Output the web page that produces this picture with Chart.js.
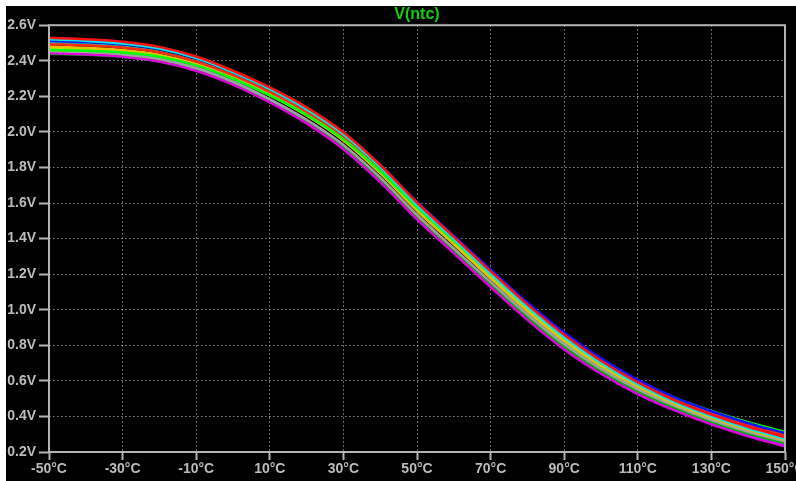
<!DOCTYPE html>
<html>
<head>
<meta charset="utf-8">
<script src="https://cdn.jsdelivr.net/npm/chart.js@4/dist/chart.umd.min.js"></script>
<style>
  html, body { margin: 0; padding: 0; background: #ffffff; }
  #wrap { position: relative; width: 796px; height: 481px; }
</style>
</head>
<body>
<div id="wrap"><canvas id="c" width="796" height="481"></canvas></div>
<script>
// ---- data ----
const temperatures = [-50, -40, -30, -20, -10, 0, 10, 20, 30, 40, 50, 60, 70, 80, 90, 100, 110, 120, 130, 140, 150];
const xTickValues = [-50, -30, -10, 10, 30, 50, 70, 90, 110, 130, 150];
const yTickValues = [0.2, 0.4, 0.6, 0.8, 1.0, 1.2, 1.4, 1.6, 1.8, 2.0, 2.2, 2.4, 2.6];
const titleText = 'V(ntc)';

const runRed     = [2.530, 2.521, 2.507, 2.478, 2.424, 2.344, 2.250, 2.138, 1.998, 1.814, 1.603, 1.410, 1.217, 1.030, 0.859, 0.713, 0.591, 0.491, 0.411, 0.342, 0.284];
const runCyan    = [2.521, 2.512, 2.497, 2.469, 2.415, 2.335, 2.240, 2.126, 1.987, 1.802, 1.589, 1.397, 1.204, 1.018, 0.846, 0.701, 0.580, 0.481, 0.401, 0.332, 0.274];
const runBlue    = [2.512, 2.505, 2.493, 2.466, 2.414, 2.336, 2.244, 2.133, 1.996, 1.814, 1.606, 1.416, 1.226, 1.041, 0.872, 0.727, 0.606, 0.507, 0.429, 0.362, 0.306];
const runGreen   = [2.460, 2.456, 2.446, 2.423, 2.374, 2.299, 2.205, 2.096, 1.959, 1.780, 1.576, 1.390, 1.204, 1.023, 0.859, 0.719, 0.602, 0.506, 0.431, 0.367, 0.314];
const runRed2    = [2.493, 2.487, 2.474, 2.448, 2.396, 2.319, 2.225, 2.112, 1.975, 1.793, 1.584, 1.395, 1.205, 1.022, 0.853, 0.710, 0.592, 0.494, 0.416, 0.349, 0.294];
const runYellow  = [2.480, 2.473, 2.460, 2.433, 2.381, 2.303, 2.207, 2.092, 1.952, 1.768, 1.558, 1.368, 1.178, 0.993, 0.826, 0.684, 0.567, 0.471, 0.392, 0.325, 0.269];
const runGray    = [2.455, 2.449, 2.436, 2.410, 2.359, 2.282, 2.183, 2.068, 1.927, 1.744, 1.534, 1.345, 1.157, 0.973, 0.806, 0.667, 0.552, 0.459, 0.380, 0.314, 0.259];
const runMagenta = [2.443, 2.436, 2.423, 2.396, 2.344, 2.266, 2.166, 2.048, 1.903, 1.718, 1.508, 1.318, 1.128, 0.943, 0.777, 0.640, 0.526, 0.434, 0.355, 0.288, 0.232];
const runLime    = [2.470, 2.465, 2.454, 2.429, 2.379, 2.303, 2.209, 2.097, 1.959, 1.779, 1.572, 1.385, 1.197, 1.015, 0.849, 0.708, 0.591, 0.495, 0.418, 0.353, 0.299];
const runDkGreen = [2.440, 2.434, 2.422, 2.396, 2.345, 2.268, 2.169, 2.052, 1.910, 1.726, 1.518, 1.329, 1.140, 0.957, 0.792, 0.654, 0.540, 0.448, 0.370, 0.304, 0.249];
const runTeal    = [2.503, 2.494, 2.479, 2.450, 2.396, 2.317, 2.220, 2.104, 1.962, 1.776, 1.564, 1.371, 1.178, 0.991, 0.820, 0.677, 0.559, 0.462, 0.381, 0.312, 0.254];
const runPurple  = [2.465, 2.457, 2.443, 2.416, 2.363, 2.284, 2.185, 2.068, 1.924, 1.739, 1.527, 1.337, 1.146, 0.960, 0.792, 0.653, 0.537, 0.443, 0.363, 0.296, 0.239];
const runSpring  = [2.475, 2.469, 2.457, 2.431, 2.380, 2.303, 2.208, 2.094, 1.955, 1.774, 1.565, 1.376, 1.188, 1.004, 0.837, 0.696, 0.579, 0.483, 0.405, 0.339, 0.284];
const runOlive   = [2.450, 2.443, 2.430, 2.404, 2.352, 2.274, 2.175, 2.058, 1.915, 1.730, 1.520, 1.332, 1.142, 0.957, 0.790, 0.653, 0.538, 0.445, 0.366, 0.300, 0.244];

const runs = [
  { values: runRed,     color: '#ff1010' },
  { values: runCyan,    color: '#00e8e8' },
  { values: runBlue,    color: '#1010ff' },
  { values: runGreen,   color: '#00ff00' },
  { values: runRed2,    color: '#ff2a10' },
  { values: runYellow,  color: '#e8c000' },
  { values: runGray,    color: '#a0a0a0' },
  { values: runMagenta, color: '#e000e0' },
  { values: runLime,    color: '#b8e000' },
  { values: runDkGreen, color: '#00b000' },
  { values: runTeal,    color: '#00c8a8' },
  { values: runPurple,  color: '#9040ff' },
  { values: runSpring,  color: '#40ff90' },
  { values: runOlive,   color: '#b0a030' }
];

const datasets = runs.map((r, k) => ({
  label: 'run ' + (k + 1),
  data: temperatures.map((t, i) => ({ x: t, y: r.values[i] })),
  borderColor: r.color,
  backgroundColor: r.color,
  borderWidth: 2.5,
  pointRadius: 0,
  fill: false,
  cubicInterpolationMode: 'monotone'
}));

const bgPlugin = {
  id: 'bg',
  beforeDraw(chart) {
    const ctx = chart.ctx;
    ctx.save();
    ctx.fillStyle = '#ffffff';
    ctx.fillRect(0, 0, chart.width, chart.height);
    ctx.fillStyle = '#000000';
    ctx.fillRect(6, 6, chart.width - 6, chart.height - 6);
    ctx.restore();
  },
  afterDraw(chart) {
    const a = chart.chartArea;
    const ctx = chart.ctx;
    ctx.save();
    ctx.strokeStyle = '#b4b4b4';
    ctx.lineWidth = 2;
    ctx.strokeRect(a.left, a.top, a.right - a.left, a.bottom - a.top);
    ctx.restore();
  }
};

const labelFont = { family: "'Liberation Sans', Arial, sans-serif", size: 14, weight: 'bold' };

new Chart(document.getElementById('c'), {
  type: 'line',
  data: { datasets },
  plugins: [bgPlugin],
  options: {
    responsive: false,
    animation: false,
    devicePixelRatio: 1,
    layout: { padding: { left: 0, right: 11, top: 0, bottom: 0 } },
    plugins: {
      legend: { display: false },
      tooltip: { enabled: false },
      title: {
        display: true,
        text: titleText,
        fullSize: false,
        color: '#10d010',
        font: { family: "'Liberation Sans', Arial, sans-serif", size: 16, weight: 'bold' },
        padding: { top: 5, bottom: 1 }
      }
    },
    scales: {
      x: {
        type: 'linear',
        min: -50,
        max: 150,
        afterBuildTicks(scale) { scale.ticks = xTickValues.map(v => ({ value: v })); },
        afterFit(scale) { scale.height = 29; scale.paddingLeft = 0; scale.paddingRight = 0; },
        ticks: {
          autoSkip: false, maxRotation: 0, minRotation: 0,
          color: '#bcbcbc', font: labelFont, padding: 1,
          callback: v => v + '°C'
        },
        grid: {
          color: '#8c8c8c', lineWidth: 1,
          drawTicks: true, tickLength: 8, tickColor: '#b4b4b4', tickWidth: 2, tickBorderDash: []
        },
        border: { display: false, dash: [1.5, 2.5] }
      },
      y: {
        type: 'linear',
        min: 0.2,
        max: 2.6,
        afterBuildTicks(scale) { scale.ticks = yTickValues.map(v => ({ value: v })); },
        afterFit(scale) { scale.width = 49; scale.paddingTop = 0; scale.paddingBottom = 0; },
        ticks: {
          autoSkip: false,
          color: '#bcbcbc', font: labelFont, padding: 3,
          callback: v => Number(v).toFixed(1) + 'V'
        },
        grid: {
          color: '#8c8c8c', lineWidth: 1,
          drawTicks: true, tickLength: 10, tickColor: '#b4b4b4', tickWidth: 2, tickBorderDash: []
        },
        border: { display: false, dash: [1.5, 2.5] }
      }
    }
  }
});
</script>
</body>
</html>
